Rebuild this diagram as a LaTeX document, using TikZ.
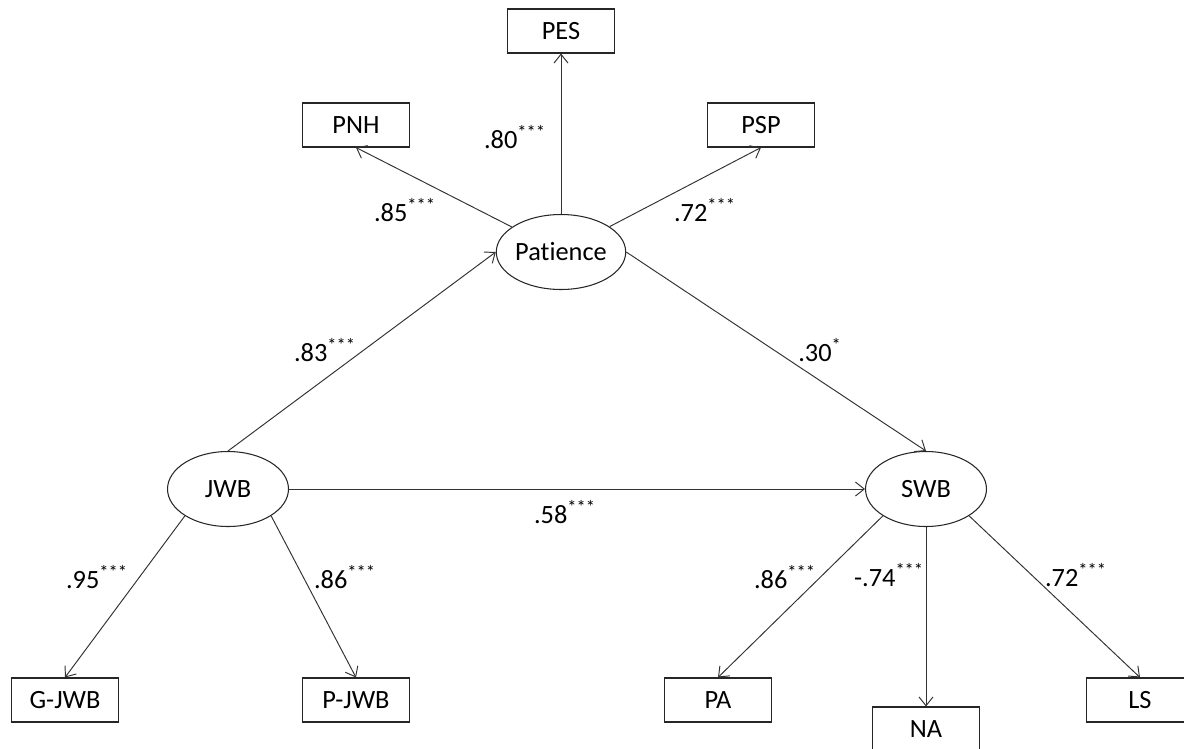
\documentclass[tikz,border=0pt]{standalone}
\usepackage{fontspec}
\setmainfont{Carlito}[Ligatures=NoCommon]
\usetikzlibrary{shapes.geometric,arrows.meta}
\tikzset{
  latent/.style={draw=black!85, line width=0.6pt, ellipse, minimum width=2.42cm, minimum height=1.5cm, inner sep=0pt},
  indic/.style={draw=black!85, line width=0.6pt, rectangle, minimum width=2.14cm, minimum height=0.88cm, inner sep=0pt},
  coef/.style={inner sep=1pt},
  path/.style={draw=black!80, line width=0.55pt, -{Straight Barb[length=5pt,width=8pt]}}
}
\begin{document}
\begin{tikzpicture}[x=0.02cm,y=-0.02cm,font=\fontsize{15}{17}\selectfont]
    \useasboundingbox (0,0) rectangle (1184,748);

    % latent variables
    \node[latent] (pat) at (561,252) {Patience};
    \node[latent] (jwb) at (228,489) {JWB};
    \node[latent] (swb) at (926,489) {SWB};

    % indicators
    \node[indic] (pes) at (561,31) {PES};
    \node[indic] (pnh) at (356,125) {PNH};
    \node[indic] (psp) at (761,125) {PSP};
    \node[indic] (gjwb) at (65,700) {G-JWB};
    \node[indic] (pjwb) at (356,700) {P-JWB};
    \node[indic] (pa) at (718,700) {PA};
    \node[indic] (na) at (926,729) {NA};
    \node[indic] (ls) at (1140,700) {LS};

    % paths
    \draw[path] (pat) -- (pes.south);
    \draw[path] (pat) -- (pnh.south);
    \draw[path] (pat) -- (psp.south);
    \draw[path] (jwb.north) -- (pat.west);
    \draw[path] (pat.east) -- (swb.north);
    \draw[path] (jwb.east) -- (swb.west);
    \draw[path] (jwb.south west) -- (gjwb.north);
    \draw[path] (jwb.south east) -- (pjwb.north);
    \draw[path] (swb.south west) -- (pa.north);
    \draw[path] (swb.south) -- (na.north);
    \draw[path] (swb.south east) -- (ls.north);

    % coefficients
    \node[coef] (c_pes) at (515,137) {.80\textsuperscript{***}};
    \node[coef] (c_pnh) at (405,210) {.85\textsuperscript{***}};
    \node[coef] (c_psp) at (705,210) {.72\textsuperscript{***}};
    \node[coef] (c_jp) at (325,350) {.83\textsuperscript{***}};
    \node[coef] (c_ps) at (820,350) {.30\textsuperscript{*}};
    \node[coef] (c_js) at (565,512) {.58\textsuperscript{***}};
    \node[coef] (c_gjwb) at (97,577) {.95\textsuperscript{***}};
    \node[coef] (c_pjwb) at (345,577) {.86\textsuperscript{***}};
    \node[coef] (c_pa) at (785,577) {.86\textsuperscript{***}};
    \node[coef] (c_na) at (889,575) {-.74\textsuperscript{***}};
    \node[coef] (c_ls) at (1076,575) {.72\textsuperscript{***}};
\end{tikzpicture}
\end{document}
